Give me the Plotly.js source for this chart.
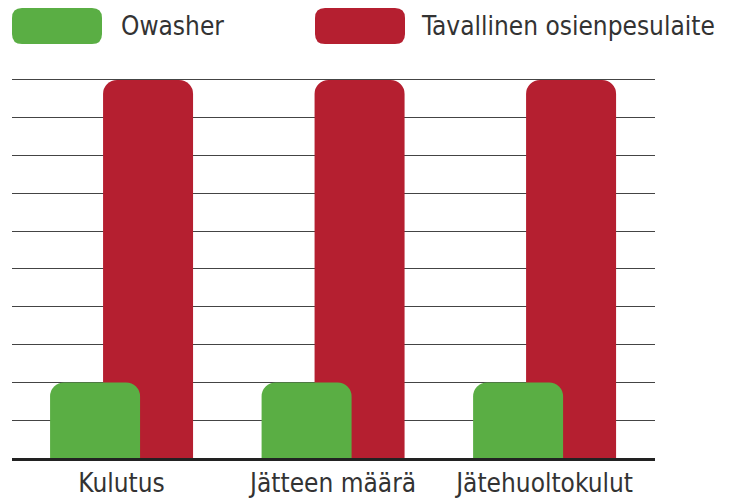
<!DOCTYPE html>
<html>
<head>
<meta charset="utf-8">
<script src="https://cdn.plot.ly/plotly-3.0.1.min.js"></script>
<style>html,body{margin:0;padding:0;background:#fff;}#chart{width:732px;height:500px;}</style>
</head>
<body>
<div id="chart"></div>
<script>
const categories = ["Kulutus", "Jätteen määrä", "Jätehuoltokulut"];
const owasherValues = [2, 2, 2];
const tavallinenValues = [10, 10, 10];
const seriesNames = ["Owasher", "Tavallinen osienpesulaite"];
const seriesColors = ["#5aae44", "#b51f30"];

const FONT = '"Liberation Sans Narrow", "DejaVu Sans Condensed", "Roboto", sans-serif';
const barW = 0.4255;

const traces = [
  {
    type: "bar", name: seriesNames[1], x: categories, y: tavallinenValues,
    width: barW, offset: -0.0875, marker: {color: seriesColors[1], line: {width: 0}},
    showlegend: false, hoverinfo: "skip"
  },
  {
    type: "bar", name: seriesNames[0], x: categories, y: owasherValues,
    width: barW, offset: -0.338, marker: {color: seriesColors[0], line: {width: 0}},
    showlegend: false, hoverinfo: "skip"
  }
];

function roundRect(x0, x1, y0, y1, r) {
  return `M${x0+r},${y0} L${x1-r},${y0} Q${x1},${y0} ${x1},${y0+r} L${x1},${y1-r} Q${x1},${y1} ${x1-r},${y1} L${x0+r},${y1} Q${x0},${y1} ${x0},${y1-r} L${x0},${y0+r} Q${x0},${y0} ${x0+r},${y0} Z`;
}

const plotL = 12, plotW = 643, plotB = 458, plotH = 383;
function px2paperX(px){ return (px - plotL) / plotW; }
function px2paperY(py){ return (plotB - py) / plotH; }

const layout = {
  width: 732, height: 500,
  margin: {l: plotL, r: 732 - plotL - plotW, t: 75, b: 42, pad: 0},
  paper_bgcolor: "#fff", plot_bgcolor: "#fff",
  barmode: "overlay",
  barcornerradius: 14,
  showlegend: false,
  font: {family: FONT, color: "#333"},
  xaxis: {
    type: "category", range: [-0.518, 2.522], fixedrange: true,
    showgrid: false, showline: true, linecolor: "#222", linewidth: 3,
    ticks: "", tickfont: {family: FONT, size: 26, color: "#333"},
    zeroline: false
  },
  yaxis: {
    range: [0, 10.132], dtick: 1, tick0: 0, showticklabels: false,
    showgrid: true, gridcolor: "#444", gridwidth: 1, zeroline: false,
    showline: false, ticks: ""
  },
  shapes: [
    {type: "path", xref: "paper", yref: "paper", xsizemode: "pixel", ysizemode: "pixel",
     xanchor: 0, yanchor: 1, path: roundRect(0, 90, 31, 67, 10),
     fillcolor: seriesColors[0], line: {width: 0}},
    {type: "path", xref: "paper", yref: "paper", xsizemode: "pixel", ysizemode: "pixel",
     xanchor: 0, yanchor: 1, path: roundRect(303, 393, 31, 67, 10),
     fillcolor: seriesColors[1], line: {width: 0}}
  ],
  annotations: [
    {text: seriesNames[0], xref: "paper", yref: "paper", x: px2paperX(119), y: px2paperY(26),
     xanchor: "left", yanchor: "middle", showarrow: false, font: {family: FONT, size: 26, color: "#333"}},
    {text: seriesNames[1], xref: "paper", yref: "paper", x: px2paperX(419), y: px2paperY(26),
     xanchor: "left", yanchor: "middle", showarrow: false, font: {family: FONT, size: 26, color: "#333"}}
  ]
};

Plotly.newPlot("chart", traces, layout, {staticPlot: true, displayModeBar: false});
</script>
</body>
</html>
